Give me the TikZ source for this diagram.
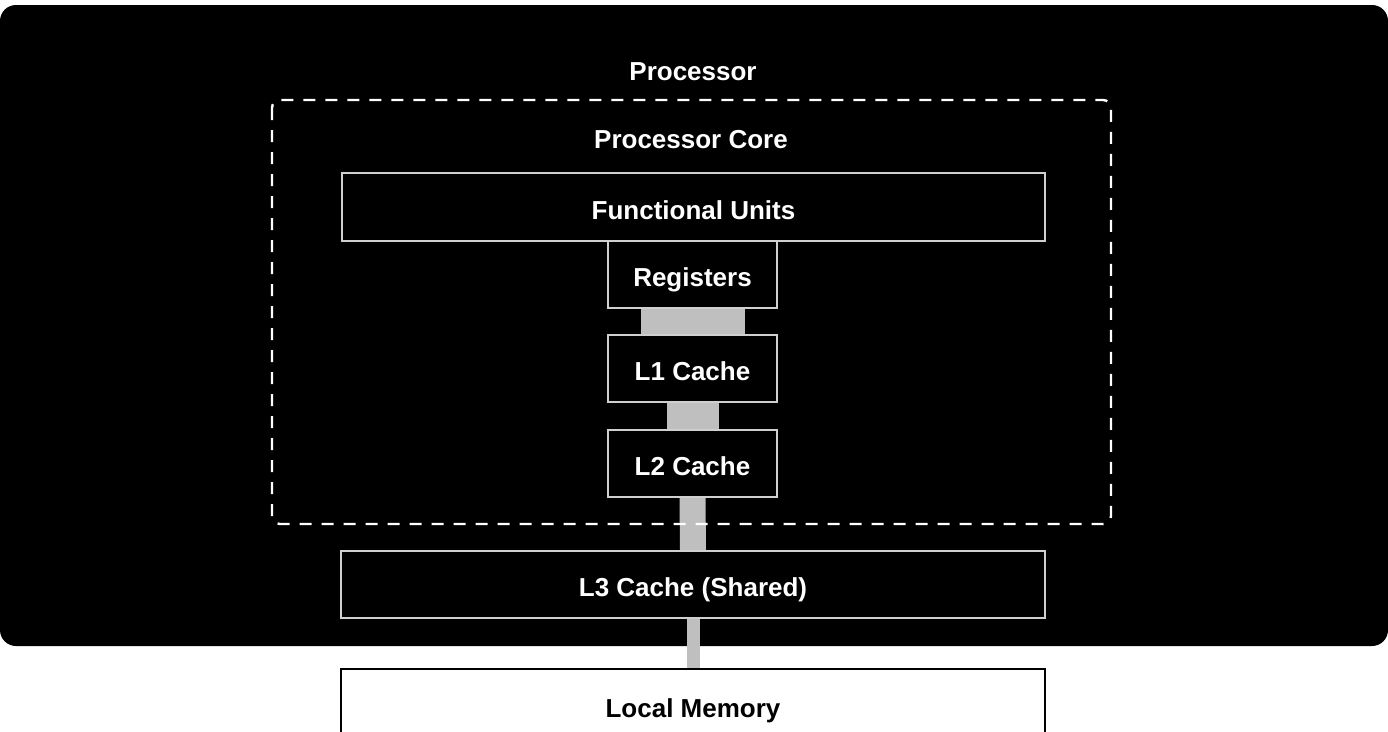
\documentclass[tikz,border=0pt]{standalone}
\usepackage{fontspec}
\setmainfont{Liberation Sans}
\usetikzlibrary{backgrounds}
\definecolor{bargray}{HTML}{BFBFBF}
\definecolor{edgegray}{HTML}{CFCFCF}
\tikzset{
  unit/.style={draw=edgegray,line width=1.3pt,fill=black,text=white,inner sep=0pt,
    text height=24pt,text depth=0pt,font=\bfseries\fontsize{26}{30}\selectfont},
  memunit/.style={unit,draw=black,fill=white,text=black},
  title/.style={text=white,inner sep=0pt,text height=24pt,text depth=0pt,
    font=\bfseries\fontsize{26}{30}\selectfont},
  bus/.style={draw=bargray},
}
\begin{document}
\begin{tikzpicture}[x=1pt,y=-1pt]
\useasboundingbox (0,0) rectangle (1388,731);
\clip (0,0) rectangle (1388,731);
% processor package
\node[title] (proc) at (693,68) {Processor};
\draw[white,line width=2.4pt,dash pattern=on 12pt off 10pt,rounded corners=8pt] (272,100) rectangle (1111,524);
\node[title] (core) at (691,136) {Processor Core};
% memory hierarchy
\node[unit,minimum width=703pt,minimum height=68pt] (fu) at (693.5,207) {Functional Units};
\node[unit,minimum width=169pt,minimum height=67pt] (reg) at (692.5,274.5) {Registers};
\node[unit,minimum width=169pt,minimum height=67pt] (l1) at (692.5,368.5) {L1 Cache};
\node[unit,minimum width=169pt,minimum height=67pt] (l2) at (692.5,463.5) {L2 Cache};
\node[unit,minimum width=704pt,minimum height=67pt] (l3) at (693,584.5) {L3 Cache (Shared)};
\node[memunit,minimum width=704pt,minimum height=72pt] (mem) at (693,705) {Local Memory};
\begin{scope}[on background layer]
\fill[black,rounded corners=16pt] (0,5) rectangle (1388,646);
\draw[bus,line width=104pt] (reg.south) -- (l1.north);
\draw[bus,line width=52pt] (l1.south) -- (l2.north);
\draw[bus,line width=26pt] (l2.south) -- (l3.north);
\draw[bus,line width=13pt] (l3.south) -- (mem.north);
\end{scope}
\end{tikzpicture}
\end{document}
